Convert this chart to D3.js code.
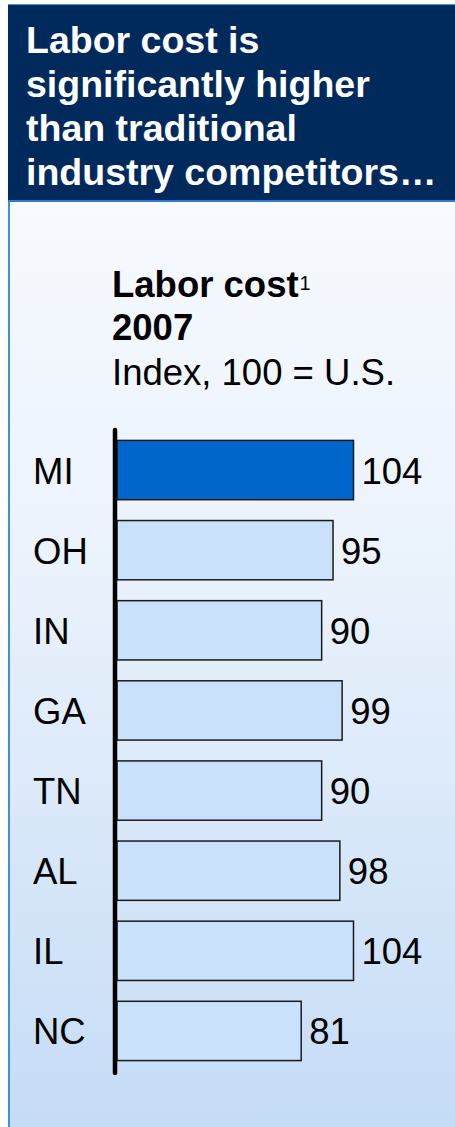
<!DOCTYPE html>
<html>
<head>
<meta charset="utf-8">
<script src="https://cdn.jsdelivr.net/npm/d3@7"></script>
<style>
  html, body { margin: 0; padding: 0; background: #fff; }
  svg { display: block; font-family: "Liberation Sans", Arial, sans-serif; }
</style>
</head>
<body>
<div id="chart"></div>
<script>
const W = 455, H = 1127;

// data
const states = ["MI", "OH", "IN", "GA", "TN", "AL", "IL", "NC"];
const values = [104, 95, 90, 99, 90, 98, 104, 81];
const highlight = ["MI"];
const headline = ["Labor cost is", "significantly higher", "than traditional", "industry competitors\u2026"];
const subtitle = ["Index, 100 = U.S."];

const rows = states.map((s, i) => ({ state: s, value: values[i] }));

const svg = d3.select("#chart").append("svg")
    .attr("width", W)
    .attr("height", H);

const defs = svg.append("defs");
const grad = defs.append("linearGradient")
    .attr("id", "panel-bg")
    .attr("x1", 0).attr("y1", 0).attr("x2", 0).attr("y2", 1);
grad.append("stop").attr("offset", "0%").attr("stop-color", "#f7fafe");
grad.append("stop").attr("offset", "40%").attr("stop-color", "#eaf2fc");
grad.append("stop").attr("offset", "100%").attr("stop-color", "#c5dcf6");

// panel
svg.append("rect")
    .attr("x", 8).attr("y", 200)
    .attr("width", W - 8).attr("height", H - 200)
    .attr("fill", "url(#panel-bg)");
svg.append("line")
    .attr("x1", 9).attr("x2", 9).attr("y1", 4).attr("y2", H)
    .attr("stroke", "#3d8fe0").attr("stroke-width", 2);

// header
svg.append("rect")
    .attr("x", 8).attr("y", 4)
    .attr("width", W - 8).attr("height", 196)
    .attr("fill", "#002a5c");
svg.append("line")
    .attr("x1", 8).attr("x2", W).attr("y1", 4.5).attr("y2", 4.5)
    .attr("stroke", "#4a90dc").attr("stroke-width", 1);
svg.append("line")
    .attr("x1", 8).attr("x2", W).attr("y1", 201).attr("y2", 201)
    .attr("stroke", "#2b7bd6").attr("stroke-width", 2);

svg.append("g").selectAll("text")
    .data(headline)
    .join("text")
    .attr("x", 26)
    .attr("y", (d, i) => 52.5 + i * 44.2)
    .attr("fill", "#fff")
    .attr("font-size", 37.5)
    .attr("font-weight", "bold")
    .text(d => d);

// chart title
const t1 = svg.append("text")
    .attr("x", 112).attr("y", 297)
    .attr("font-size", 36.5)
    .attr("font-weight", "bold")
    .attr("fill", "#000");
t1.append("tspan").text("Labor cost");
t1.append("tspan").attr("font-size", 20).attr("font-weight", "normal")
    .attr("dx", 1).attr("dy", -7).text("1");

svg.append("text")
    .attr("x", 112).attr("y", 340)
    .attr("font-size", 36.5).attr("font-weight", "bold")
    .text("2007");

svg.append("text")
    .attr("x", 112).attr("y", 385)
    .attr("font-size", 36.5)
    .text(subtitle[0]);

// scales
const x = d3.scaleLinear()
    .domain([0, 100])
    .range([117, 344.4]);

const y = d3.scaleBand()
    .domain(states)
    .range([430, 1071])
    .paddingInner(0.26)
    .paddingOuter(0.13);

// bars
svg.append("g").selectAll("rect")
    .data(rows)
    .join("rect")
    .attr("x", x(0))
    .attr("y", d => y(d.state))
    .attr("width", d => x(d.value) - x(0))
    .attr("height", y.bandwidth())
    .attr("fill", d => highlight.includes(d.state) ? "#0066cc" : "#c9e1fa")
    .attr("stroke", "#1a1a1a")
    .attr("stroke-width", 1.5);

// value labels
svg.append("g").selectAll("text")
    .data(rows)
    .join("text")
    .attr("x", d => x(d.value) + 8)
    .attr("y", d => y(d.state) + y.bandwidth() / 2 + 13.5)
    .attr("font-size", 36.5)
    .attr("fill", "#000")
    .text(d => d.value);

// category labels
svg.append("g").selectAll("text")
    .data(rows)
    .join("text")
    .attr("x", 33)
    .attr("y", d => y(d.state) + y.bandwidth() / 2 + 13.5)
    .attr("font-size", 36.5)
    .attr("fill", "#000")
    .text(d => d.state);

// axis line
svg.append("line")
    .attr("x1", 115).attr("x2", 115)
    .attr("y1", 430).attr("y2", 1073)
    .attr("stroke", "#000")
    .attr("stroke-width", 4.5)
    .attr("stroke-linecap", "round");
</script>
</body>
</html>
